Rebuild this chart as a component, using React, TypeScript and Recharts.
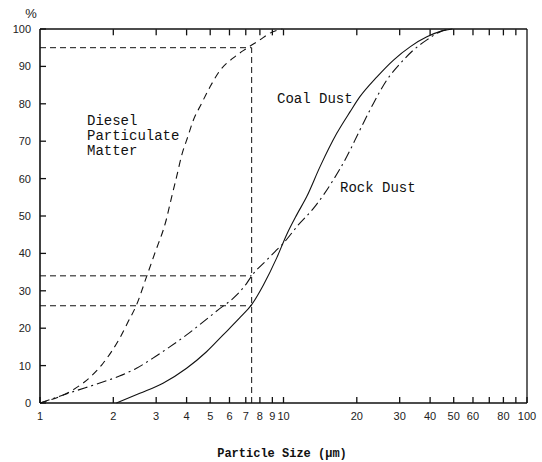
import { LineChart, Line, XAxis, YAxis, ReferenceLine } from "recharts";

// particle size (µm) vs cumulative percent
const dieselSize = [1, 1.365, 1.6, 1.81, 1.96, 2.12, 2.3, 2.49, 2.74, 2.96, 3.3, 3.47, 3.64, 3.81, 4.06, 4.25, 4.6, 5.0, 5.5, 6.2, 7.05, 8.0, 8.8, 9.9];
const dieselPct = [0, 3.5, 6.8, 10.5, 13.6, 17.2, 21.7, 26.2, 33.8, 40, 49, 55, 60.5, 66, 71.5, 75.4, 80, 84.6, 89, 92.2, 94.8, 97.1, 98.9, 100];

const coalSize = [2.06, 2.57, 3.2, 4.0, 4.83, 5.65, 6.62, 7.4, 8.26, 9.38, 10.3, 11.33, 12.46, 14.13, 16.55, 18.78, 20.6, 24.2, 28.3, 33.2, 38.8, 44.8, 49.4];
const coalPct = [0, 2.6, 5.3, 9.3, 13.7, 18.2, 22.8, 26.3, 31.5, 38.8, 45, 50.3, 55.2, 63.2, 72.1, 77.9, 81.9, 87.2, 91.7, 95.3, 97.9, 99.5, 100];

const rockSize = [1, 1.365, 1.81, 2.12, 2.49, 2.91, 3.41, 4.0, 4.68, 5.39, 6.21, 7.06, 7.4, 8.53, 9.23, 9.98, 11.5, 13.3, 16.0, 18.2, 20.6, 23.4, 26.6, 30.2, 34.2, 38.8, 44.1, 48.4];
const rockPct = [0, 3.0, 5.6, 7.2, 9.3, 12, 15, 18.2, 21.7, 24.9, 28, 32, 34, 38.2, 40.5, 42.7, 47.6, 52.1, 59.6, 65.9, 73, 80.1, 86.4, 90.8, 94.4, 97.1, 99.3, 100];

// guide lines
const guideSize = 7.4;
const guidePcts = [95, 34, 26];

const xTicks = [1, 2, 3, 4, 5, 6, 7, 8, 9, 10, 20, 30, 40, 50, 60, 70, 80, 90, 100];
const xUnlabelled = [70, 90];
const yTicks = [0, 10, 20, 30, 40, 50, 60, 70, 80, 90, 100];

const toPoints = (xs: number[], ys: number[]) => xs.map((size, i) => ({ size, pct: ys[i] }));

const diesel = toPoints(dieselSize, dieselPct);
const coal = toPoints(coalSize, coalPct);
const rock = toPoints(rockSize, rockPct);

const ink = "#111";
const tickFont = { fontFamily: "'Liberation Sans', Arial, sans-serif", fontSize: 11, fill: "#222" };
const monoFont = { fontFamily: "'Liberation Mono', 'DejaVu Sans Mono', monospace", fill: ink };

function BottomTick(props: any) {
  const { x, y, payload } = props;
  const label = xUnlabelled.includes(payload.value) ? "" : String(payload.value);
  return (
    <g>
      <line x1={x} y1={y} x2={x} y2={y - 6} stroke={ink} strokeWidth={1.3} />
      <text x={x} y={y + 17} textAnchor="middle" {...tickFont}>
        {label}
      </text>
    </g>
  );
}

function LeftTick(props: any) {
  const { x, y, payload } = props;
  return (
    <g>
      <line x1={x} y1={y} x2={x + 6} y2={y} stroke={ink} strokeWidth={1.3} />
      <text x={x - 9} y={y + 4} textAnchor="end" {...tickFont}>
        {payload.value}
      </text>
    </g>
  );
}

export default function App() {
  return (
    <div style={{ position: "absolute", left: 0, top: 0, width: 542, height: 462, background: "#fff" }}>
      <LineChart width={542} height={462} data={diesel} margin={{ top: 28, right: 14, bottom: 0, left: 0 }}>
        <XAxis
          dataKey="size"
          type="number"
          scale="log"
          domain={[1, 100]}
          allowDataOverflow
          ticks={xTicks}
          interval={0}
          height={59}
          tickSize={0}
          tickMargin={0}
          tick={<BottomTick />}
          axisLine={{ stroke: ink, strokeWidth: 1.3 }}
        />
        <XAxis
          xAxisId="top"
          orientation="top"
          dataKey="size"
          type="number"
          scale="log"
          domain={[1, 100]}
          allowDataOverflow
          height={1}
          tick={false}
          tickLine={false}
          axisLine={{ stroke: ink, strokeWidth: 1.3 }}
        />
        <YAxis
          type="number"
          domain={[0, 100]}
          ticks={yTicks}
          interval={0}
          width={40}
          tickSize={0}
          tickMargin={0}
          tick={<LeftTick />}
          axisLine={{ stroke: ink, strokeWidth: 1.6 }}
        />
        <YAxis
          yAxisId="right"
          orientation="right"
          type="number"
          domain={[0, 100]}
          width={1}
          tick={false}
          tickLine={false}
          axisLine={{ stroke: ink, strokeWidth: 1.3 }}
        />
        {/* inward tick marks along the top border */}
        {xTicks.slice(1, -1).map((t) => (
          <ReferenceLine
            key={`top-${t}`}
            segment={[
              { x: t, y: 99.9 },
              { x: t, y: 98.3 },
            ]}
            ifOverflow="visible"
            stroke={ink}
            strokeWidth={1.3}
          />
        ))}
        {guidePcts.map((p) => (
          <ReferenceLine
            key={p}
            segment={[
              { x: 1, y: p },
              { x: guideSize, y: p },
            ]}
            stroke={ink}
            strokeDasharray="6 4"
          />
        ))}
        <ReferenceLine
          segment={[
            { x: guideSize, y: 0 },
            { x: guideSize, y: guidePcts[0] },
          ]}
          stroke={ink}
          strokeDasharray="6 4"
        />
        <Line data={diesel} dataKey="pct" type="monotone" stroke={ink} strokeWidth={1.1} strokeDasharray="7 5" dot={false} isAnimationActive={false} />
        <Line data={coal} dataKey="pct" type="monotone" stroke={ink} strokeWidth={1.1} dot={false} isAnimationActive={false} />
        <Line data={rock} dataKey="pct" type="monotone" stroke={ink} strokeWidth={1.1} strokeDasharray="10 4 2 4" dot={false} isAnimationActive={false} />
      </LineChart>
      <svg width={542} height={462} style={{ position: "absolute", left: 0, top: 0, pointerEvents: "none" }}>
        <text x={31} y={18} textAnchor="middle" {...tickFont} fontSize={13}>
          %
        </text>
        <text x={87} y={125} fontSize={14} {...monoFont}>Diesel</text>
        <text x={87} y={140} fontSize={14} {...monoFont}>Particulate</text>
        <text x={87} y={155} fontSize={14} {...monoFont}>Matter</text>
        <text x={277} y={103} fontSize={14} {...monoFont}>Coal Dust</text>
        <text x={340} y={192} fontSize={14} {...monoFont}>Rock Dust</text>
        <text x={282} y={457} textAnchor="middle" fontSize={12} fontWeight="bold" {...monoFont}>
          Particle Size (µm)
        </text>
      </svg>
    </div>
  );
}
